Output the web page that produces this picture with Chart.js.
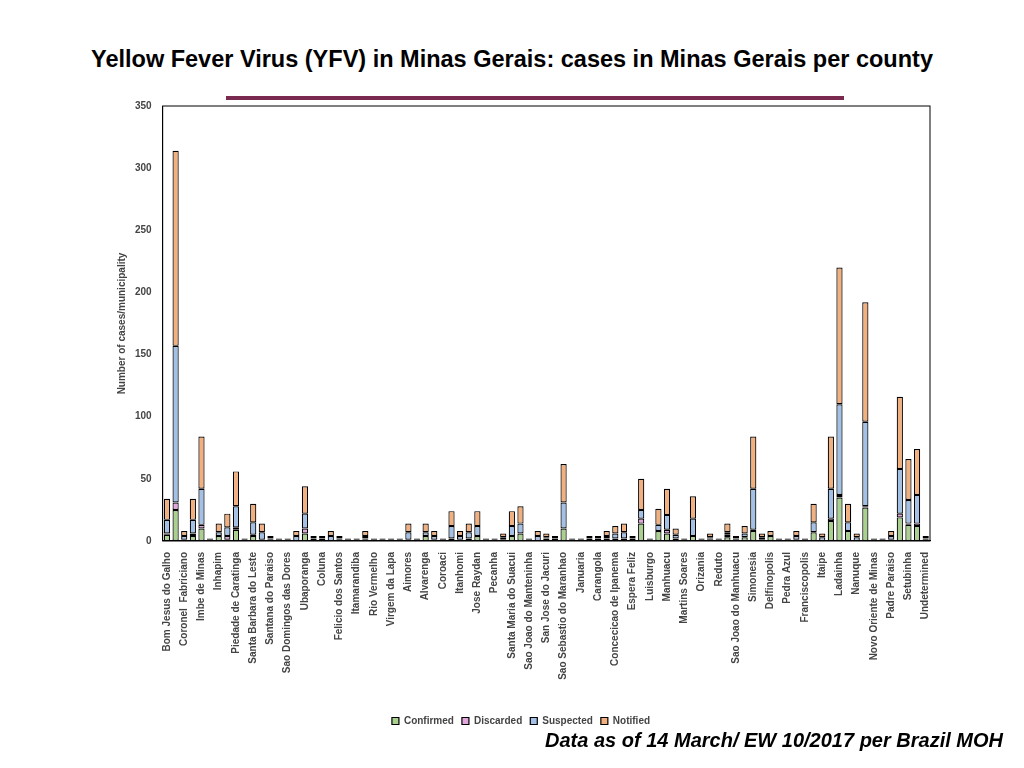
<!DOCTYPE html>
<html>
<head>
<meta charset="utf-8">
<script src="https://cdn.jsdelivr.net/npm/chart.js@4/dist/chart.umd.min.js"></script>
<style>
  body { margin: 0; background: #fff; font-family: "Liberation Sans", Arial, sans-serif; }
  #wrap { position: relative; width: 1024px; height: 768px; }
  #title { position: absolute; top: 46px; left: 0; width: 1024px; text-align: center; font-weight: bold; font-size: 23.5px; color: #000; }
  #rule { position: absolute; top: 96px; left: 226px; width: 618px; height: 4px; background: #7b2a4f; }
  #foot { position: absolute; top: 729px; right: 21px; font-weight: bold; font-style: italic; font-size: 20px; color: #000; }
  canvas { position: absolute; top: 0; left: 0; }
</style>
</head>
<body>
<div id="wrap">
  <div id="title">Yellow Fever Virus (YFV) in Minas Gerais: cases in Minas Gerais per county</div>
  <div id="rule"></div>
  <canvas id="chart" width="1024" height="768"></canvas>
  <div id="foot">Data as of 14 March/ EW 10/2017 per Brazil MOH</div>
</div>
<script>
// ============================================
// DATA (89 counties, every other one labelled in the original)
// ============================================

const namedCounties = [
  'Bom Jesus do Galho', 'Coronel  Fabriciano', 'Imbe de Minas', 'Inhapim',
  'Piedade de Caratinga', 'Santa Barbara do Leste', 'Santana do Paraiso',
  'Sao Domingos das Dores', 'Ubaporanga', 'Coluna', 'Felicio dos Santos',
  'Itamarandiba', 'Rio Vermelho', 'Virgem da Lapa', 'Aimores', 'Alvarenga',
  'Coroaci', 'Itanhomi', 'Jose Raydan', 'Pecanha', 'Santa Maria do Suacui',
  'Sao Joao do Manteninha', 'San Jose do Jacuri', 'Sao Sebastio do Maranhao',
  'Januaria', 'Carangola', 'Concecicao de Ipanema', 'Espera Feliz', 'Luisburgo',
  'Manhuacu', 'Martins Soares', 'Orizania', 'Reduto', 'Sao Joao do Manhuacu',
  'Simonesia', 'Delfinopolis', 'Pedra Azul', 'Franciscopolis', 'Itaipe',
  'Ladainha', 'Nanuque', 'Novo Oriente de Minas', 'Padre Paraiso', 'Setubinha',
  'Undetermined'
];

const confirmed = [
  5, 25, 1, 4, 10, 0, 4, 1, 9, 0, 4, 1, 1, 0, 0, 0, 6, 2, 2, 0,
  1, 0, 0, 1, 0, 0, 0, 0, 1, 0, 4, 1, 0, 0, 1, 2, 4, 0, 0, 1,
  4, 6, 0, 0, 2, 0, 10, 0, 0, 0, 0, 2, 2, 2, 0, 14, 0, 8, 6, 2,
  0, 4, 0, 1, 0, 3, 1, 3, 8, 1, 4, 0, 0, 1, 0, 7, 0, 16, 35, 8,
  0, 27, 0, 0, 1, 19, 13, 12, 1
];
const discarded = [
  1, 6, 0, 2, 3, 1, 0, 3, 2, 1, 1, 0, 0, 1, 1, 0, 4, 0, 0, 0,
  0, 1, 1, 1, 1, 1, 1, 1, 0, 1, 0, 0, 1, 2, 0, 0, 0, 1, 1, 0,
  0, 0, 1, 0, 0, 0, 0, 1, 1, 0, 0, 0, 0, 0, 0, 4, 1, 0, 3, 0,
  1, 0, 1, 1, 1, 2, 1, 0, 1, 0, 0, 1, 1, 0, 1, 0, 0, 2, 2, 0,
  0, 1, 1, 1, 0, 3, 1, 2, 1
];
const suspected = [
  11, 126, 3, 11, 29, 0, 3, 7, 17, 0, 10, 6, 1, 0, 0, 4, 12, 0, 0, 4,
  1, 0, 0, 2, 0, 0, 0, 0, 6, 0, 3, 3, 0, 10, 3, 5, 8, 0, 0, 2,
  8, 8, 0, 4, 1, 2, 21, 0, 0, 2, 2, 2, 4, 5, 2, 7, 0, 5, 12, 3,
  0, 14, 0, 1, 0, 2, 0, 3, 33, 2, 0, 0, 0, 3, 0, 8, 3, 24, 73, 7,
  3, 68, 0, 0, 3, 36, 19, 23, 0
];
const notified = [
  17, 157, 4, 17, 42, 1, 7, 11, 28, 1, 15, 7, 2, 1, 1, 4, 22, 2, 2, 4,
  2, 1, 1, 4, 1, 1, 1, 1, 7, 1, 7, 4, 1, 12, 4, 7, 12, 1, 1, 3,
  12, 14, 1, 4, 3, 2, 31, 1, 1, 2, 2, 4, 6, 7, 2, 25, 1, 13, 21, 5,
  1, 18, 1, 3, 1, 7, 2, 6, 42, 3, 4, 1, 1, 4, 1, 15, 3, 42, 110, 15,
  3, 96, 1, 1, 4, 58, 33, 37, 2
];

// labelled counties sit on the even slots, odd slots stay blank
const counties = confirmed.map((_, i) => (i % 2 === 0 ? namedCounties[i / 2] : ''));

const yTicks = [0, 50, 100, 150, 200, 250, 300, 350];

// ============================================
// CHART
// ============================================

function makeSet(label, data, color) {
  return {
    label: label,
    data: data,
    backgroundColor: color,
    borderColor: '#000',
    borderWidth: 1.2,
    borderSkipped: false,
    categoryPercentage: 1,
    barPercentage: 0.72
  };
}

// black frame round the plot area (top and right edges as well)
const frame = {
  id: 'frame',
  afterDraw(chart) {
    const a = chart.chartArea;
    const ctx = chart.ctx;
    ctx.save();
    ctx.strokeStyle = '#000';
    ctx.lineWidth = 1;
    ctx.strokeRect(a.left, a.top, a.right - a.left, a.bottom - a.top);
    ctx.restore();
  }
};

const tickFont = { family: 'Liberation Sans', weight: 'bold', size: 10 };

new Chart(document.getElementById('chart'), {
  type: 'bar',
  data: {
    labels: counties,
    datasets: [
      makeSet('Confirmed', confirmed, '#a9d08e'),
      makeSet('Discarded', discarded, '#e3a6dc'),
      makeSet('Suspected', suspected, '#a3c1e6'),
      makeSet('Notified', notified, '#f2b07e')
    ]
  },
  options: {
    responsive: false,
    animation: false,
    layout: { padding: { top: 106, left: 112, right: 94, bottom: 32 } },
    plugins: {
      legend: {
        position: 'bottom',
        title: { display: true, text: ' ', font: { size: 1 }, padding: 12 },
        labels: {
          color: '#444',
          font: tickFont,
          boxWidth: 7,
          boxHeight: 7,
          padding: 8
        }
      },
      tooltip: { enabled: false }
    },
    scales: {
      x: {
        stacked: true,
        grid: { display: false },
        border: { color: '#000' },
        ticks: {
          autoSkip: false,
          maxRotation: 90,
          minRotation: 90,
          color: '#444',
          font: tickFont
        }
      },
      y: {
        stacked: true,
        min: 0,
        max: 350,
        afterBuildTicks: (axis) => { axis.ticks = yTicks.map(v => ({ value: v })); },
        grid: { display: false },
        border: { color: '#000' },
        ticks: { color: '#444', font: tickFont },
        title: {
          display: true,
          text: 'Number of cases/municipality',
          color: '#444',
          font: tickFont
        }
      }
    }
  },
  plugins: [frame]
});
</script>
</body>
</html>
